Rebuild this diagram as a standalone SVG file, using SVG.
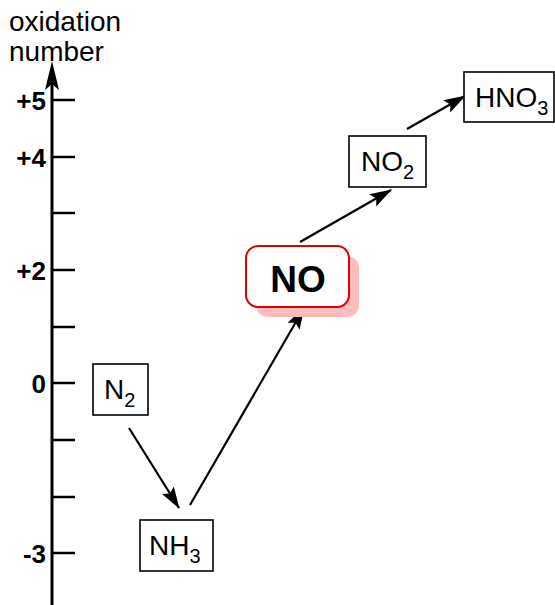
<svg xmlns="http://www.w3.org/2000/svg" width="555" height="605" viewBox="0 0 555 605">
<style>
.box{fill:#fff;stroke:#000;stroke-width:1.6}
.ln{stroke:#000;stroke-width:2.2;fill:none}
</style>
<defs>
<marker id="ah" viewBox="0 0 22 14" refX="21" refY="7" markerWidth="22" markerHeight="14" markerUnits="userSpaceOnUse" orient="auto">
<path d="M0,0 L22,7 L0,14 L4,7 Z" fill="#000"/>
</marker>
</defs>
<g id="axis">
<line class="ln" x1="52" y1="605" x2="52" y2="70" style="stroke-width:3"/>
<path d="M52,61 L59,90 L52,84 L45,90 Z" fill="#000"/>
<g class="ln" style="stroke-width:2.5">
<line x1="52" y1="100" x2="75" y2="100"/>
<line x1="52" y1="157" x2="75" y2="157"/>
<line x1="52" y1="213" x2="75" y2="213"/>
<line x1="52" y1="270" x2="75" y2="270"/>
<line x1="52" y1="327" x2="75" y2="327"/>
<line x1="52" y1="383" x2="75" y2="383"/>
<line x1="52" y1="440" x2="75" y2="440"/>
<line x1="52" y1="497" x2="75" y2="497"/>
<line x1="52" y1="553" x2="75" y2="553"/>
</g>
<g font-family="Liberation Sans, Arial, sans-serif" font-size="26" font-weight="bold" text-anchor="end" fill="#000">
<text x="46" y="110">+5</text>
<text x="46" y="167">+4</text>
<text x="46" y="280">+2</text>
<text x="46" y="393">0</text>
<text x="46" y="563">-3</text>
</g>
<g font-family="Liberation Sans, Arial, sans-serif" font-size="28" fill="#000">
<text x="9" y="31">oxidation</text>
<text x="9" y="61">number</text>
</g>
</g>
<g id="connectors">
<line class="ln" x1="129" y1="428" x2="179" y2="508" marker-end="url(#ah)"/>
<line class="ln" x1="190" y1="505" x2="304" y2="308" marker-end="url(#ah)"/>
<line class="ln" x1="300" y1="242" x2="391" y2="190" marker-end="url(#ah)"/>
<line class="ln" x1="407" y1="129" x2="465" y2="96" marker-end="url(#ah)"/>
</g>
<g font-family="Liberation Sans, Arial, sans-serif" font-size="28" fill="#000">
<g id="N2">
<rect class="box" x="93" y="364" width="55" height="51"/>
<text x="104" y="399">N<tspan font-size="20" dy="8">2</tspan></text>
</g>
<g id="NH3">
<rect class="box" x="140" y="520" width="73" height="51"/>
<text x="149" y="555">NH<tspan font-size="20" dy="8">3</tspan></text>
</g>
<g id="NO">
<rect x="256" y="256" width="103" height="61" rx="12" fill="#ffbcbc"/>
<rect x="246" y="246" width="103" height="61" rx="12" fill="#fff" stroke="#e00000" stroke-width="2"/>
<text x="298" y="292" font-size="37" font-weight="bold" text-anchor="middle">NO</text>
</g>
<g id="NO2">
<rect class="box" x="349" y="136" width="77" height="51"/>
<text x="361" y="171">NO<tspan font-size="20" dy="8">2</tspan></text>
</g>
<g id="HNO3">
<rect class="box" x="464" y="72" width="90" height="50"/>
<text x="475" y="107">HNO<tspan font-size="20" dy="8">3</tspan></text>
</g>
</g>
</svg>
